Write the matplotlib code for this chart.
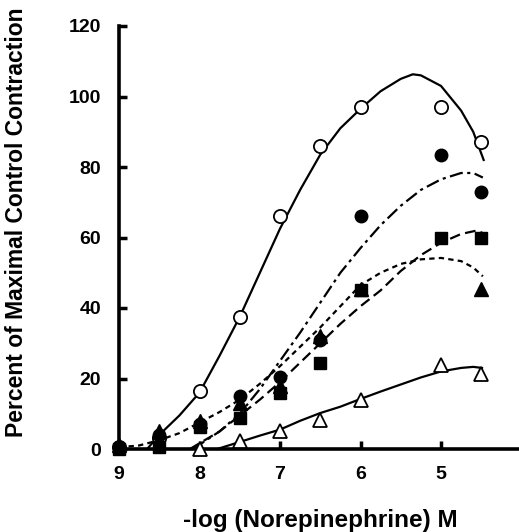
import numpy as np
import matplotlib as mpl
mpl.use("Agg")
import matplotlib.pyplot as plt

plt.rcParams['font.family'] = ['Liberation Sans', 'DejaVu Sans']
plt.rcParams['font.weight'] = 'bold'

# -log [NE] of the measured points
dose = [9, 8.5, 8, 7.5, 7, 6.5, 6, 5, 4.5]
nan = np.nan

# point values (% of maximal control contraction)
open_circle = [0.5, 3, 16.5, 37.5, 66, 86, 97, 97, 87]
filled_circle = [0.5, 4, 7, 15, 20.5, 31, 66, 83.5, 73]
filled_square = [0, 0.5, 6.2, 8.8, 16, 24.4, 45, 60, 60]
filled_tri = [1, 5, 8, 13, 18, 32, 45.5, nan, 45.5]
open_tri = [nan, nan, 0, 2.2, 5, 8.2, 13.9, 23.8, 21.3]

# fitted curves
fit1_x = [8.65, 8.5, 8.25, 8.0, 7.75, 7.5, 7.25, 7.0, 6.75, 6.5, 6.25, 6.0, 5.75, 5.5, 5.35, 5.25, 5.0, 4.75, 4.6, 4.47]
fit1_y = [0, 4, 9.5, 16, 26.5, 37.5, 50, 62.5, 73.5, 83.5, 91, 96.5, 101.5, 105, 106.3, 106, 103, 96, 90, 82]

fit2_x = [8.08, 7.75, 7.5, 7.25, 7.0, 6.75, 6.5, 6.25, 6.0, 5.75, 5.5, 5.25, 5.0, 4.75, 4.6, 4.48]
fit2_y = [0, 5, 10, 17, 25, 33, 41.5, 50, 57, 63.5, 69, 73.5, 76.5, 78.3, 78.3, 77]

fit3_x = [9.0, 8.75, 8.5, 8.25, 8.0, 7.75, 7.5, 7.25, 7.0, 6.75, 6.5, 6.25, 6.0, 5.75, 5.5, 5.25, 5.0, 4.75, 4.6, 4.48]
fit3_y = [0.5, 1, 2.5, 4.5, 7.5, 10.5, 14, 18.5, 23.5, 29, 34.5, 40.5, 46.5, 50, 52.5, 53.8, 54.2, 53.3, 51.5, 49]

fit4_x = [8.12, 7.75, 7.5, 7.25, 7.0, 6.75, 6.5, 6.25, 6.0, 5.75, 5.5, 5.25, 5.0, 4.75, 4.55, 4.46]
fit4_y = [0, 5, 9.5, 14, 19, 24.5, 30, 35.5, 40.5, 45, 50.5, 55, 58.5, 61, 62, 61]

fit5_x = [7.78, 7.5, 7.25, 7.0, 6.75, 6.5, 6.25, 6.0, 5.75, 5.5, 5.25, 5.0, 4.75, 4.6, 4.49]
fit5_y = [0, 2, 3.8, 5.5, 8, 10.2, 12, 14.2, 16.3, 18.3, 20.3, 22, 23, 23.3, 23]

fig = plt.figure(figsize=(5.19, 5.32), dpi=100)
ax = fig.add_axes([119/519, 1 - 449/532, 400/519, 423/532])

lw = 1.6
ax.plot(fit1_x, fit1_y, color='black', lw=lw, ls='-', clip_on=False)
ax.plot(fit2_x, fit2_y, color='black', lw=lw, ls=(0, (6, 2, 1.4, 2)), clip_on=False)
ax.plot(fit3_x, fit3_y, color='black', lw=lw, ls=(0, (2.4, 1.9)), clip_on=False)
ax.plot(fit4_x, fit4_y, color='black', lw=lw, ls=(0, (4.8, 2.4)), clip_on=False)
ax.plot(fit5_x, fit5_y, color='black', lw=lw, ls='-', clip_on=False)

ax.plot(dose, open_circle, 'o', ms=9.5, mfc='white', mec='black', mew=1.3, clip_on=False, zorder=3)
ax.plot(dose, open_tri, '^', ms=10, mfc='white', mec='black', mew=1.3, clip_on=False, zorder=3)
ax.plot(dose, filled_square, 's', ms=8.5, color='black', clip_on=False, zorder=4)
ax.plot(dose, filled_circle, 'o', ms=9, color='black', clip_on=False, zorder=4)
ax.plot(dose, filled_tri, '^', ms=9.5, color='black', clip_on=False, zorder=4)

ax.set_xlim(9, 9 - 400/80.5)
ax.set_ylim(0, 120)
ax.set_xticks([9, 8, 7, 6, 5])
ax.set_yticks([0, 20, 40, 60, 80, 100, 120])

for s in ['top', 'right']:
    ax.spines[s].set_visible(False)
for s in ['left', 'bottom']:
    ax.spines[s].set_linewidth(2.6)
ax.spines['left'].set_capstyle('projecting')

ax.tick_params(axis='both', direction='in', length=6, width=2.5, labelsize=14)
ax.tick_params(axis='y', pad=13)
ax.tick_params(axis='x', pad=12)
for lab in ax.get_xticklabels() + ax.get_yticklabels():
    lab.set_fontweight('bold')

fig.text(17/519, 1 - 222/532, 'Percent of Maximal Control Contraction', rotation=90,
         ha='center', va='center', fontsize=16.5, fontweight='bold')
fig.text(320/519, 1 - 520/532, '-log (Norepinephrine) M',
         ha='center', va='center', fontsize=17.5, fontweight='bold')

fig.savefig('out.png', dpi=100)
